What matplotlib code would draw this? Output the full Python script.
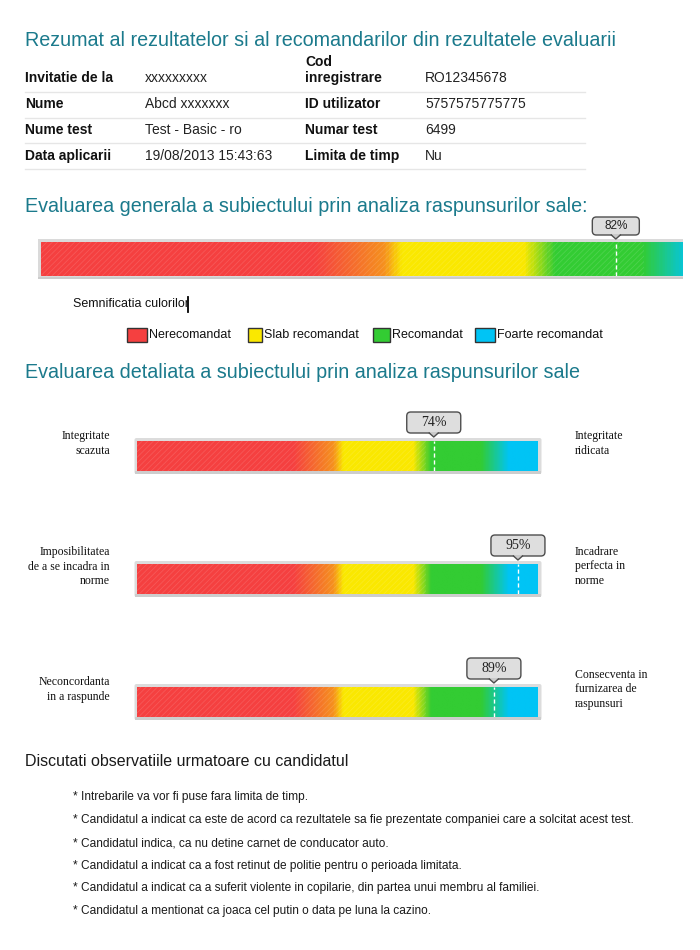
import numpy as np
import matplotlib
matplotlib.use("Agg")
import matplotlib.pyplot as plt
from matplotlib import font_manager as fm
from matplotlib.patches import Rectangle, FancyBboxPatch, Polygon
from matplotlib.colors import LinearSegmentedColormap
from matplotlib.transforms import Affine2D, ScaledTranslation
from matplotlib.lines import Line2D

# ---------------- data ----------------
summary_title = "Rezumat al rezultatelor si al recomandarilor din rezultatele evaluarii"
info_left_labels = ["Invitatie de la", "Nume", "Nume test", "Data aplicarii"]
info_left_values = ["xxxxxxxxx", "Abcd xxxxxxx", "Test - Basic - ro", "19/08/2013 15:43:63"]
info_right_labels = ["Cod\ninregistrare", "ID utilizator", "Numar test", "Limita de timp"]
info_right_values = ["RO12345678", "5757575775775", "6499", "Nu"]

general_title = "Evaluarea generala a subiectului prin analiza raspunsurilor sale:"
general_score = 82

legend_title = "Semnificatia culorilor"
legend_labels = ["Nerecomandat", "Slab recomandat", "Recomandat", "Foarte recomandat"]
legend_colors = ["#f54040", "#fae800", "#33cc33", "#00c4f5"]

detail_title = "Evaluarea detaliata a subiectului prin analiza raspunsurilor sale"
detail_low_labels = ["Integritate\nscazuta",
                     "Imposibilitatea\nde a se incadra in\nnorme",
                     "Neconcordanta\nin a raspunde"]
detail_high_labels = ["Integritate\nridicata",
                      "Incadrare\nperfecta in\nnorme",
                      "Consecventa in\nfurnizarea de\nraspunsuri"]
detail_scores = [74, 95, 89]

obs_title = "Discutati observatiile urmatoare cu candidatul"
observations = [
    "* Intrebarile va vor fi puse fara limita de timp.",
    "* Candidatul a indicat ca este de acord ca rezultatele sa fie prezentate companiei care a solcitat acest test.",
    "* Candidatul indica, ca nu detine carnet de conducator auto.",
    "* Candidatul a indicat ca a fost retinut de politie pentru o perioada limitata.",
    "* Candidatul a indicat ca a suferit violente in copilarie, din partea unui membru al familiei.",
    "* Candidatul a mentionat ca joaca cel putin o data pe luna la cazino.",
]

scale_stops = [0.0, 0.39, 0.49, 0.515, 0.69, 0.735, 0.86, 0.93, 1.0]
scale_colors = ["#f54040", "#f54040", "#f6911e", "#fae800", "#fae800",
                "#33cc33", "#33cc33", "#00c4f5", "#00c4f5"]

# ---------------- setup ----------------
names = {f.name for f in fm.fontManager.ttflist}
SANS = "Liberation Sans" if "Liberation Sans" in names else "DejaVu Sans"
NARROW = "Liberation Sans Narrow" if "Liberation Sans Narrow" in names else SANS
SERIF = "Liberation Serif" if "Liberation Serif" in names else "DejaVu Serif"
plt.rcParams["font.family"] = [SANS, "DejaVu Sans"]
plt.rcParams["hatch.linewidth"] = 0.6

TEAL = "#1b7a8c"
W, H = 700, 950
fig = plt.figure(figsize=(W / 100, H / 100), dpi=100)
fig.patch.set_facecolor("white")
bg = fig.add_axes([0, 0, 1, 1])
bg.set_xlim(0, W)
bg.set_ylim(H, 0)
bg.axis("off")
renderer = fig.canvas.get_renderer()


def fig_rect(x, y, w, h):
    return [x / W, 1 - (y + h) / H, w / W, h / H]


def fit(t, target):
    w = t.get_window_extent(renderer).width
    t.set_fontsize(t.get_fontsize() * target / w)
    return t


scale_cmap = LinearSegmentedColormap.from_list("scale", list(zip(scale_stops, scale_colors)))
bubble_cmap = LinearSegmentedColormap.from_list("bub", ["#c9c9c9", "#f2f2f2"])
ramp = np.linspace(0, 1, 600)[None, :]
vramp = np.linspace(0, 1, 64)[:, None]


def draw_bar(x, y, w, h, full_w, score, bub_w, bub_h, gap, txt_kw, hatch_end):
    ax = fig.add_axes(fig_rect(x, y, w, h))
    ax.imshow(ramp, extent=(0, 100, 0, 1), aspect="auto", cmap=scale_cmap,
              interpolation="bilinear")
    ax.add_patch(Rectangle((0, 0), hatch_end, 1, fill=False, hatch="//////",
                           ec=(1, 1, 1, 0.13), lw=0))
    ax.axis("off")
    ax.axvline(score, color="white", lw=1, ls=(0, (3, 2)))
    tr = Affine2D() + ScaledTranslation(score, 1, ax.get_xaxis_transform())
    bub = FancyBboxPatch((-bub_w / 2, gap), bub_w, bub_h,
                         boxstyle="round,pad=0,rounding_size=4",
                         fc="#dedede", ec="none", transform=tr, clip_on=False, zorder=5)
    ax.add_patch(bub)
    im = ax.imshow(vramp, extent=(-bub_w / 2, bub_w / 2, gap, gap + bub_h),
                   origin="lower", cmap=bubble_cmap, aspect="auto", transform=tr,
                   interpolation="bilinear", zorder=5.5)
    im.set_clip_path(bub)
    ax.add_patch(FancyBboxPatch((-bub_w / 2, gap), bub_w, bub_h,
                                boxstyle="round,pad=0,rounding_size=4",
                                fc="none", ec="#4d4d4d", lw=1,
                                transform=tr, clip_on=False, zorder=6))
    ax.add_patch(Polygon([(-4.5, gap + 1), (4.5, gap + 1), (0, gap - 4)], closed=True,
                         fc="#cacaca", ec="none", transform=tr, clip_on=False, zorder=6.5))
    ax.add_line(Line2D([-4.5, 0, 4.5], [gap, gap - 4, gap], color="#4d4d4d", lw=1,
                       transform=tr, clip_on=False, zorder=6.5))
    ax.text(0, gap + bub_h / 2, f"{score}%", transform=tr, ha="center", va="center",
            clip_on=False, zorder=7, **txt_kw)
    ax.set_xlim(0, 100 * w / full_w)
    ax.set_ylim(0, 1)
    return ax


# ---------------- header ----------------
t = bg.text(25, 40, summary_title, color=TEAL, fontsize=14, va="center", ha="left")
fit(t, 595)

row_y = [78, 104, 130, 156]
sep_y = [92, 118, 143, 169]
for i in range(4):
    bg.text(25, row_y[i], info_left_labels[i], fontsize=10, fontweight="bold",
            color="#111111", va="center")
    bg.text(145, row_y[i], info_left_values[i], fontsize=10, color="#222222", va="center")
    yy = row_y[i] - 8 if "\n" in info_right_labels[i] else row_y[i]
    bg.text(305, yy, info_right_labels[i], fontsize=10, fontweight="bold",
            color="#111111", va="center", linespacing=1.15)
    bg.text(425, row_y[i], info_right_values[i], fontsize=10, color="#222222", va="center")
    bg.plot([25, 585], [sep_y[i], sep_y[i]], color="#e6e6e6", lw=1)

# ---------------- general evaluation ----------------
t = bg.text(25, 206, general_title, color=TEAL, fontsize=14, va="center", ha="left")
fit(t, 567)

bg.add_patch(Rectangle((38, 239), 645, 40, fc="#dadada", ec="none"))
bg.add_patch(Rectangle((38, 277), 645, 2, fc="#cccccc", ec="none"))
draw_bar(41, 242, 642, 34, 701, general_score, 47, 18, 7,
         dict(fontsize=8.5, family=[NARROW, SANS], color="#222222"), 86)

bg.text(73, 304, legend_title, fontsize=9, color="#111111", va="center")
bg.plot([188, 188], [297, 312], color="black", lw=1.3)
box_x = [127, 248, 373, 475]
box_w = [20, 14, 17, 20]
for bx, bw, lab, col in zip(box_x, box_w, legend_labels, legend_colors):
    bg.add_patch(Rectangle((bx, 328), bw, 14, fc=col, ec="#333333", lw=1))
    bg.text(bx + bw + 2, 335, lab, fontsize=9, color="#111111", va="center")

# ---------------- detailed evaluation ----------------
t = bg.text(25, 372, detail_title, color=TEAL, fontsize=14, va="center", ha="left")
fit(t, 558)

bar_y = [441, 564, 687]
for i, sc in enumerate(detail_scores):
    y0 = bar_y[i]
    bg.add_patch(FancyBboxPatch((134.5, y0 - 3), 407, 36,
                                boxstyle="round,pad=0,rounding_size=2",
                                fc="#dcdcdc", ec="none"))
    bg.add_patch(Rectangle((135, y0 + 30), 406, 3, fc="#cdcdcd", ec="none"))
    draw_bar(137, y0, 401, 30, 401, sc, 54, 21, 8,
             dict(fontsize=10, family=[SERIF], color="#222222"), 72)
    bg.text(110, y0 + 2.5, detail_low_labels[i], family=[SERIF], fontsize=8.5,
            ha="right", va="center", linespacing=1.27, color="#111111")
    bg.text(575, y0 + 2.5, detail_high_labels[i], family=[SERIF], fontsize=8.5,
            ha="left", va="center", linespacing=1.27, color="#111111")

# ---------------- observations ----------------
t = bg.text(25, 761, obs_title, family=[NARROW, SANS], fontsize=12, color="#1a1a1a",
            va="center")
fit(t, 325)

obs_y = [797, 820, 843, 866, 888, 911]
texts = [bg.text(73, yy, s, family=[NARROW, SANS], fontsize=9, color="#1a1a1a",
                 va="center") for yy, s in zip(obs_y, observations)]
fit(texts[1], 567)
for tt in texts:
    tt.set_fontsize(texts[1].get_fontsize())

fig.savefig("out.png", dpi=100, facecolor="white")
